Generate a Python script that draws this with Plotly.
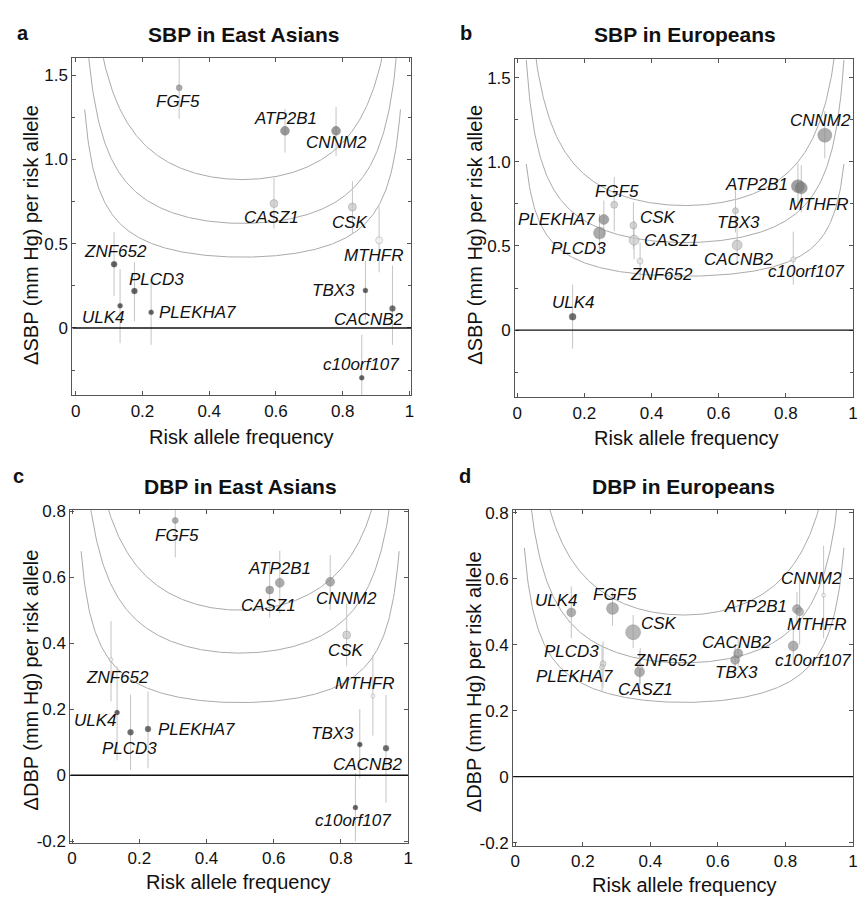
import numpy as np
import plotly.graph_objects as go

W, H = 859, 905
FONT = "Liberation Sans, Arial, Helvetica, sans-serif"

GENES = ["FGF5", "ATP2B1", "CNNM2", "CASZ1", "CSK", "MTHFR", "ZNF652",
         "ULK4", "PLCD3", "PLEKHA7", "TBX3", "CACNB2", "c10orf107"]

# ---- Panel a: SBP in East Asians ----
a_freq = [0.310, 0.627, 0.780, 0.594, 0.829, 0.909, 0.115, 0.133, 0.176, 0.226, 0.868, 0.949, 0.857]
a_beta = [1.424, 1.169, 1.169, 0.738, 0.717, 0.520, 0.378, 0.132, 0.219, 0.093, 0.223, 0.116, -0.295]
a_lo   = [1.240, 1.040, 1.020, 0.590, 0.560, 0.330, 0.190, -0.090, 0.040, -0.100, 0.050, -0.100, -0.550]
a_hi   = [1.610, 1.300, 1.310, 0.890, 0.870, 0.720, 0.570, 0.350, 0.390, 0.290, 0.400, 0.370, -0.040]

# ---- Panel b: SBP in Europeans ----
b_freq = [0.289, 0.836, 0.916, 0.348, 0.346, 0.846, 0.366, 0.165, 0.245, 0.258, 0.650, 0.655, 0.822]
b_beta = [0.744, 0.855, 1.158, 0.534, 0.622, 0.845, 0.410, 0.080, 0.577, 0.657, 0.709, 0.505, 0.420]
b_lo   = [0.590, 0.720, 1.020, 0.420, 0.480, 0.700, 0.300, -0.110, 0.460, 0.550, 0.580, 0.400, 0.270]
b_hi   = [0.910, 0.990, 1.300, 0.650, 0.760, 0.980, 0.520, 0.270, 0.690, 0.770, 0.830, 0.610, 0.585]

# ---- Panel c: DBP in East Asians ----
c_freq = [0.307, 0.618, 0.768, 0.588, 0.817, 0.895, 0.116, 0.134, 0.174, 0.226, 0.856, 0.934, 0.843]
c_beta = [0.772, 0.583, 0.586, 0.561, 0.425, 0.240, 0.350, 0.190, 0.130, 0.140, 0.093, 0.082, -0.098]
c_lo   = [0.660, 0.490, 0.500, 0.477, 0.330, 0.120, 0.224, 0.045, 0.016, 0.021, -0.010, -0.083, -0.200]
c_hi   = [0.880, 0.680, 0.667, 0.645, 0.520, 0.363, 0.467, 0.330, 0.244, 0.254, 0.200, 0.244, 0.006]

# ---- Panel d: DBP in Europeans ----
d_freq = [0.288, 0.834, 0.913, 0.368, 0.349, 0.842, 0.370, 0.166, 0.260, 0.257, 0.651, 0.660, 0.823]
d_beta = [0.510, 0.508, 0.550, 0.318, 0.438, 0.500, 0.335, 0.498, 0.342, 0.332, 0.354, 0.374, 0.396]
d_lo   = [0.458, 0.460, 0.420, 0.250, 0.390, 0.400, 0.280, 0.420, 0.270, 0.260, 0.310, 0.330, 0.340]
d_hi   = [0.560, 0.560, 0.700, 0.380, 0.490, 0.600, 0.390, 0.577, 0.410, 0.400, 0.400, 0.420, 0.450]

# detectable-effect contour levels (minimum of each curve, at frequency 0.5)
a_levels = [0.88, 0.62, 0.42]
b_levels = [0.74, 0.52, 0.32]
c_levels = [0.50, 0.37, 0.22]
d_levels = [0.49, 0.345, 0.225]

x_ticks = [0, 0.2, 0.4, 0.6, 0.8, 1]
x_ticktext = ["0", "0.2", "0.4", "0.6", "0.8", "1"]
sbp_ticks = [0, 0.5, 1.0, 1.5]
sbp_ticktext = ["0", "0.5", "1.0", "1.5"]
dbp_ticks = [-0.2, 0, 0.2, 0.4, 0.6, 0.8]
dbp_ticktext = ["-0.2", "0", "0.2", "0.4", "0.6", "0.8"]

# ---------------- styles ----------------
a_size = [6, 9, 9, 8, 8, 7, 6, 5, 6, 5, 5, 6, 5]
a_col = ["#8a8a8a", "#6e6e6e", "#6e6e6e", "#c4c4c4", "#c4c4c4", "#f0f0f0", "#222222",
         "#222222", "#222222", "#222222", "#222222", "#333333", "#222222"]
b_size = [7, 13, 14, 10, 7, 12, 6, 7, 12, 10, 6, 10, 5]
b_col = ["#c4c4c4", "#7a7a7a", "#8a8a8a", "#c8c8c8", "#c4c4c4", "#7a7a7a", "#e4e4e4",
         "#333333", "#888888", "#808080", "#c4c4c4", "#c0c0c0", "#e8e8e8"]
c_size = [6, 9, 9, 8, 8, 4, 4, 5, 6, 6, 5, 6, 5]
c_col = ["#8a8a8a", "#8a8a8a", "#888888", "#808080", "#c4c4c4", "#f2f2f2", "#f2f2f2",
         "#222222", "#333333", "#333333", "#222222", "#333333", "#222222"]
d_size = [12, 9, 4, 10, 15, 8, 5, 9, 6, 5, 9, 9, 10]
d_col = ["#909090", "#909090", "#f0f0f0", "#8c8c8c", "#999999", "#999999", "#e0e0e0",
         "#8c8c8c", "#cfcfcf", "#d6d6d6", "#8c8c8c", "#8c8c8c", "#909090"]

# label placement: (xanchor, xshift px, yshift px)
a_lab = [("center", -1, -14), ("center", 1, 12), ("center", 0, -12), ("center", -2, -14),
         ("center", -2, -15), ("center", -6, -15), ("center", 1, 13), ("center", -17, -12),
         ("center", 22, 12), ("left", 6, 0), ("right", -8, 0), ("center", -23, -11),
         ("center", -1, 13)]
b_lab = [("center", 3, 13), ("right", -8, 2), ("center", -4, 15), ("left", 8, 0),
         ("left", 5, 8), ("center", 17, -17), ("center", 21, -13), ("center", 1, 14),
         ("center", -21, -16), ("right", -7, 0), ("center", 3, -12), ("center", 2, -14),
         ("center", 13, -12)]
c_lab = [("center", 2, -15), ("center", 0, 14), ("center", 16, -17), ("center", -1, -15),
         ("center", -1, -16), ("center", -8, 13), ("center", 6, -18), ("center", -22, -8),
         ("center", -1, -16), ("left", 8, 0), ("right", -4, 11), ("center", -18, -16),
         ("center", -2, -13)]
d_lab = [("center", 2, 14), ("right", -8, 3), ("center", -12, 17), ("center", 6, -18),
         ("left", 6, 9), ("center", 17, -13), ("center", 25, 6), ("center", -15, 12),
         ("center", -32, 12), ("center", -28, -9), ("center", 1, -13), ("center", -1, 11),
         ("center", 20, -14)]

# panel boxes in pixels: left, right, top, bottom
panels = [
    dict(key="a", title="SBP in East Asians", ytitle="\u0394SBP (mm Hg) per risk allele",
         box=(70, 412, 52, 395), xr=[-0.01, 1.005], yr=[-0.4, 1.6],
         yt=sbp_ticks, ytt=sbp_ticktext, minor=0.25,
         freq=a_freq, beta=a_beta, lo=a_lo, hi=a_hi, lev=a_levels,
         size=a_size, col=a_col, lab=a_lab,
         letter=(20, 26), tpos=(243, 28), ytpos=(28, 232), xtpos=(241, 437)),
    dict(key="b", title="SBP in Europeans", ytitle="\u0394SBP (mm Hg) per risk allele",
         box=(517, 858, 53, 397), xr=[-0.006, 1.0], yr=[-0.4, 1.61],
         yt=sbp_ticks, ytt=sbp_ticktext, minor=0.25,
         freq=b_freq, beta=b_beta, lo=b_lo, hi=b_hi, lev=b_levels,
         size=b_size, col=b_col, lab=b_lab,
         letter=(467, 26), tpos=(688, 28), ytpos=(477, 232), xtpos=(690, 438)),
    dict(key="c", title="DBP in East Asians", ytitle="\u0394DBP (mm Hg) per risk allele",
         box=(68, 409, 511, 850), xr=[-0.005, 1.0], yr=[-0.205, 0.805],
         yt=dbp_ticks, ytt=dbp_ticktext, minor=None,
         freq=c_freq, beta=c_beta, lo=c_lo, hi=c_hi, lev=c_levels,
         size=c_size, col=c_col, lab=c_lab,
         letter=(16, 477), tpos=(240, 488), ytpos=(28, 684), xtpos=(238, 890)),
    dict(key="d", title="DBP in Europeans", ytitle="\u0394DBP (mm Hg) per risk allele",
         box=(515, 858, 511, 853), xr=[-0.006, 1.0], yr=[-0.21, 0.81],
         yt=dbp_ticks, ytt=dbp_ticktext, minor=None,
         freq=d_freq, beta=d_beta, lo=d_lo, hi=d_hi, lev=d_levels,
         size=d_size, col=d_col, lab=d_lab,
         letter=(466, 477), tpos=(687, 488), ytpos=(475, 686), xtpos=(688, 893)),
]

fig = go.Figure()
annotations = []
shapes = []
layout = {}

p = np.linspace(0.027, 0.973, 400)

for i, pn in enumerate(panels):
    n = "" if i == 0 else str(i + 1)
    xa, ya = "x" + n, "y" + n
    L, R, T, B = pn["box"]
    layout["xaxis" + n] = dict(
        domain=[L / W, R / W], range=pn["xr"], anchor=ya,
        tickvals=x_ticks, ticktext=x_ticktext,
        showline=True, mirror="ticks", linecolor="#555", linewidth=1,
        ticks="inside", ticklen=4, tickcolor="#555",
        showgrid=False, zeroline=False,
        tickfont=dict(family=FONT, size=17, color="#111"))
    yax = dict(
        domain=[1 - B / H, 1 - T / H], range=pn["yr"], anchor=xa,
        tickvals=pn["yt"], ticktext=pn["ytt"],
        showline=True, mirror="ticks", linecolor="#555", linewidth=1,
        ticks="inside", ticklen=4, tickcolor="#555",
        showgrid=False, zeroline=False,
        tickfont=dict(family=FONT, size=17, color="#111"))
    if pn["minor"]:
        yax["minor"] = dict(tickvals=[-0.25, 0.25, 0.75, 1.25], ticks="inside",
                            ticklen=3, tickcolor="#555", showgrid=False)
    layout["yaxis" + n] = yax

    # contour curves
    for m in pn["lev"]:
        fig.add_trace(go.Scatter(
            x=p, y=m * 0.5 / np.sqrt(p * (1 - p)), xaxis=xa, yaxis=ya,
            mode="lines", line=dict(color="#aaaaaa", width=1),
            hoverinfo="skip", showlegend=False))

    # zero line
    shapes.append(dict(type="line", xref=xa, yref=ya, x0=pn["xr"][0], x1=pn["xr"][1],
                       y0=0, y1=0, line=dict(color="#111", width=1.4)))

    beta = np.array(pn["beta"])
    fig.add_trace(go.Scatter(
        x=pn["freq"], y=pn["beta"], xaxis=xa, yaxis=ya, mode="markers",
        marker=dict(size=pn["size"], color=pn["col"],
                    line=dict(color="rgba(70,70,70,0.55)", width=0.6)),
        error_y=dict(type="data", symmetric=False,
                     array=list(np.array(pn["hi"]) - beta),
                     arrayminus=list(beta - np.array(pn["lo"])),
                     color="#c4c4c4", thickness=1, width=0),
        text=GENES, hoverinfo="text+x+y", showlegend=False))

    # gene labels
    for g, x, y, (anc, dx, dy) in zip(GENES, pn["freq"], pn["beta"], pn["lab"]):
        annotations.append(dict(
            x=x, y=y, xref=xa, yref=ya, text="<i>%s</i>" % g, showarrow=False,
            xanchor=anc, yanchor="middle", xshift=dx, yshift=dy,
            font=dict(family=FONT, size=17, color="#111")))

    # titles
    lx, ly = pn["letter"]
    annotations.append(dict(x=lx / W, y=1 - ly / H, xref="paper", yref="paper",
                            text="<b>%s</b>" % pn["key"], showarrow=False,
                            xanchor="center", yanchor="middle",
                            font=dict(family=FONT, size=20, color="#111")))
    tx, ty = pn["tpos"]
    annotations.append(dict(x=tx / W, y=1 - ty / H, xref="paper", yref="paper",
                            text="<b>%s</b>" % pn["title"], showarrow=False,
                            xanchor="center", yanchor="middle",
                            font=dict(family=FONT, size=21, color="#111")))
    yx, yy = pn["ytpos"]
    annotations.append(dict(x=yx / W, y=1 - yy / H, xref="paper", yref="paper",
                            text=pn["ytitle"], showarrow=False, textangle=-90,
                            xanchor="center", yanchor="middle",
                            font=dict(family=FONT, size=20, color="#111")))
    xx, xy = pn["xtpos"]
    annotations.append(dict(x=xx / W, y=1 - xy / H, xref="paper", yref="paper",
                            text="Risk allele frequency", showarrow=False,
                            xanchor="center", yanchor="middle",
                            font=dict(family=FONT, size=20, color="#111")))

fig.update_layout(
    width=W, height=H, margin=dict(l=0, r=0, t=0, b=0),
    paper_bgcolor="white", plot_bgcolor="white",
    annotations=annotations, shapes=shapes, showlegend=False, **layout)

fig.write_html("out.html", config={"displayModeBar": False},
               post_script="document.body.style.margin='0';document.body.style.padding='0';")
